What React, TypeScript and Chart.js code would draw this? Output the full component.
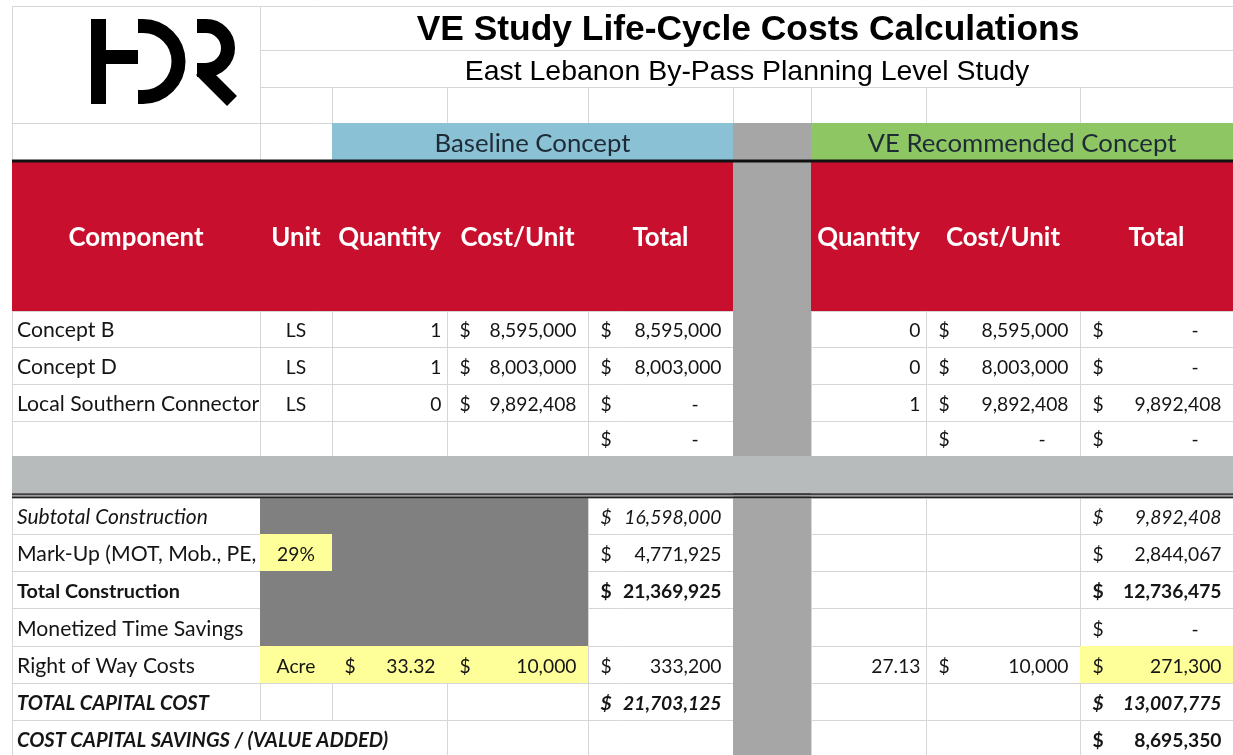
import React, { useEffect, useRef } from "react";
import { Chart, registerables } from "chart.js";

Chart.register(...registerables);

const W = 1233;
const H = 755;

// ---------- content ----------
const reportTitle = "VE Study Life-Cycle Costs Calculations";
const reportSubtitle = "East Lebanon By-Pass Planning Level Study";
const conceptGroups = ["Baseline Concept", "VE Recommended Concept"];
const columnHeaders = ["Component", "Unit", "Quantity", "Cost/Unit", "Total", "", "Quantity", "Cost/Unit", "Total"];

const components = ["Concept B", "Concept D", "Local Southern Connector", ""];
const componentUnits = ["LS", "LS", "LS", ""];
const baselineQuantity: (number | null)[] = [1, 1, 0, null];
const baselineUnitCost: (number | null)[] = [8595000, 8003000, 9892408, null];
const baselineTotal: (number | null)[] = [8595000, 8003000, 0, 0];
const veQuantity: (number | null)[] = [0, 0, 1, null];
const veUnitCost: (number | null)[] = [8595000, 8003000, 9892408, 0];
const veTotal: (number | null)[] = [0, 0, 9892408, 0];

const summaryLabels = [
  "Subtotal Construction",
  "Mark-Up (MOT, Mob., PE,",
  "Total Construction",
  "Monetized Time Savings",
  "Right of Way Costs",
  "TOTAL CAPITAL COST",
  "COST CAPITAL SAVINGS / (VALUE ADDED)",
];
const summaryBaselineTotal: (number | null)[] = [16598000, 4771925, 21369925, null, 333200, 21703125, null];
const summaryVeTotal: (number | null)[] = [9892408, 2844067, 12736475, 0, 271300, 13007775, 8695350];
const markUpRate = "29%";
const rightOfWayUnit = "Acre";
const baselineAcres = 33.32;
const costPerAcre = 10000;
const veAcres = 27.13;

// ---------- layout / style ----------
const colEdges = [12, 260, 332, 447, 588, 733, 811, 926, 1080, 1245];
const dataRowEdges = [311, 347, 384, 421, 456];
const sumRowEdges = [498, 534, 571, 608, 646, 683, 720, 757];
const labelStyles = ["italic", "normal", "bold", "normal", "normal", "italic bold", "italic bold"];
const baseValStyles = ["italic", "normal", "bold", "normal", "normal", "italic bold", "normal"];
const veValStyles = ["italic", "normal", "bold", "normal", "normal", "italic bold", "bold"];

const C = {
  grid: "#d6d6d6",
  blue: "#8bc1d5",
  green: "#8dc662",
  sep: "#a6a6a6",
  red: "#c8102e",
  band: "#b8bbbb",
  dark: "#808080",
  yellow: "#ffff99",
  text: "#151515",
};

const CELL_FAMILY = 'Lato, "Noto Sans", sans-serif';
const TITLE_FAMILY = '"Liberation Sans", Arial, sans-serif';

function fmt(n: number) {
  return n.toLocaleString("en-US", { maximumFractionDigits: 2 });
}

const tablePlugin = {
  id: "spreadsheetTable",
  afterDraw(chart: any) {
    const { ctx } = chart;
    const xs = chart.scales.x;
    const ys = chart.scales.y;
    const X = (v: number) => xs.getPixelForValue(v);
    const Y = (v: number) => ys.getPixelForValue(v);

    const fitSize = (text: string, font: (s: number) => string, target: number) => {
      ctx.font = font(100);
      const w = ctx.measureText(text).width;
      return (100 * target) / w;
    };
    const cellSize = fitSize("8,595,000", (s) => `${s}px ${CELL_FAMILY}`, 87);
    const labelSizes: Record<string, number> = {
      normal: fitSize("Right of Way Costs", (s) => `${s}px ${CELL_FAMILY}`, 178),
      italic: fitSize("Subtotal Construction", (s) => `italic ${s}px ${CELL_FAMILY}`, 191),
      bold: fitSize("Total Construction", (s) => `bold ${s}px ${CELL_FAMILY}`, 163),
      "italic bold": fitSize("TOTAL CAPITAL COST", (s) => `italic bold ${s}px ${CELL_FAMILY}`, 192),
    };
    const headSize = fitSize("Component", (s) => `bold ${s}px ${CELL_FAMILY}`, 135);
    const groupSize = fitSize("Baseline Concept", (s) => `${s}px ${CELL_FAMILY}`, 196);
    const titleSize = fitSize(reportTitle, (s) => `bold ${s}px ${TITLE_FAMILY}`, 663);
    const subSize = fitSize(reportSubtitle, (s) => `${s}px ${TITLE_FAMILY}`, 565);
    const cf = (style: string) => `${style} ${cellSize}px ${CELL_FAMILY}`;
    const lf = (style: string) => `${style} ${labelSizes[style]}px ${CELL_FAMILY}`;

    const rect = (x0: number, y0: number, x1: number, y1: number, color: string) => {
      ctx.fillStyle = color;
      ctx.fillRect(X(x0), Y(y0), X(x1) - X(x0), Y(y1) - Y(y0));
    };
    const hline = (y: number, x0: number, x1: number) => {
      const py = Math.round(Y(y)) + 0.5;
      ctx.beginPath();
      ctx.moveTo(X(x0), py);
      ctx.lineTo(X(x1), py);
      ctx.stroke();
    };
    const vline = (x: number, y0: number, y1: number) => {
      const px = Math.round(X(x)) + 0.5;
      ctx.beginPath();
      ctx.moveTo(px, Y(y0));
      ctx.lineTo(px, Y(y1));
      ctx.stroke();
    };

    ctx.save();
    rect(0, 0, W, H, "#ffffff");

    // ---- grid lines ----
    ctx.strokeStyle = C.grid;
    ctx.lineWidth = 1;
    hline(6, 12, W);
    hline(50, 260, W);
    hline(87, 260, W);
    hline(123, 12, W);
    vline(12, 6, H);
    vline(260, 6, 160);
    for (let i = 2; i < colEdges.length - 1; i++) vline(colEdges[i], 87, 123);
    vline(332, 123, 160);
    dataRowEdges.forEach((y) => hline(y, 12, W));
    sumRowEdges.forEach((y) => hline(y, 12, W));
    for (let i = 1; i < colEdges.length - 1; i++) {
      vline(colEdges[i], dataRowEdges[0], dataRowEdges[dataRowEdges.length - 1]);
      const lastTop = sumRowEdges[sumRowEdges.length - 2];
      if (colEdges[i] === 260 || colEdges[i] === 332) vline(colEdges[i], sumRowEdges[0], lastTop);
      else vline(colEdges[i], sumRowEdges[0], H);
    }

    // ---- fills ----
    rect(332, 123, 733, 160, C.blue);
    rect(811, 123, W, 160, C.green);
    rect(733, 123, 811, H, C.sep);
    rect(12, 162, 733, 311, C.red);
    rect(811, 162, W, 311, C.red);
    rect(12, 456, W, 493, C.band);
    rect(260, 498, 588, 646, C.dark);
    rect(260, 534, 332, 571, C.yellow);
    rect(260, 646, 588, 683, C.yellow);
    rect(1080, 646, W, 683, C.yellow);
    // heavy borders
    rect(12, 159.5, W, 162.5, "#111111");
    rect(12, 493.3, W, 494.9, "#222222");
    rect(12, 494.9, W, 496.5, "#9a9c9c");
    rect(12, 496.5, W, 498.2, "#222222");

    // ---- logo ----
    rect(91, 19, 106, 104, "#000");
    rect(106, 50, 138, 64, "#000");
    ctx.strokeStyle = "#000";
    ctx.lineWidth = 14;
    ctx.lineCap = "butt";
    ctx.beginPath();
    ctx.moveTo(X(138), Y(26));
    ctx.lineTo(X(143), Y(26));
    ctx.arc(X(143), Y(61.5), 35.5, -Math.PI / 2, Math.PI / 2);
    ctx.lineTo(X(138), Y(97));
    ctx.stroke();
    ctx.beginPath();
    ctx.moveTo(X(197), Y(26));
    ctx.lineTo(X(206), Y(26));
    ctx.arc(X(206), Y(48), 22, -Math.PI / 2, Math.PI / 2);
    ctx.lineTo(X(197), Y(70));
    ctx.stroke();
    ctx.beginPath();
    ctx.moveTo(X(201), Y(70));
    ctx.lineTo(X(232), Y(101));
    ctx.stroke();

    // ---- titles ----
    ctx.fillStyle = "#000";
    ctx.textAlign = "center";
    ctx.textBaseline = "alphabetic";
    ctx.font = `bold ${titleSize}px ${TITLE_FAMILY}`;
    ctx.fillText(reportTitle, X(748), Y(39.5));
    ctx.font = `${subSize}px ${TITLE_FAMILY}`;
    ctx.fillText(reportSubtitle, X(747), Y(79.5));

    // group labels
    ctx.fillStyle = "#1e2b36";
    ctx.font = `${groupSize}px ${CELL_FAMILY}`;
    ctx.fillText(conceptGroups[0], X((332 + 733) / 2), Y(152));
    ctx.fillText(conceptGroups[1], X((811 + W) / 2), Y(152));

    // column headers
    ctx.fillStyle = "#ffffff";
    ctx.font = `bold ${headSize}px ${CELL_FAMILY}`;
    ctx.textBaseline = "middle";
    columnHeaders.forEach((h, i) => {
      if (!h) return;
      const right = i === 8 ? W : colEdges[i + 1];
      ctx.fillText(h, X((colEdges[i] + right) / 2), Y(238));
    });
    ctx.textBaseline = "alphabetic";

    // ---- cell text helpers ----
    ctx.font = cf("normal");
    const digitW = ctx.measureText("0").width;
    const left = (s: string, c: number, bottom: number, style: string, clipRight?: number) => {
      ctx.save();
      ctx.beginPath();
      ctx.rect(X(colEdges[c]), Y(bottom - 40), X(clipRight ?? colEdges[c + 1]) - X(colEdges[c]) - 1, 40);
      ctx.clip();
      ctx.font = lf(style);
      ctx.fillStyle = C.text;
      ctx.textAlign = "left";
      ctx.fillText(s, X(colEdges[c] + 5), Y(bottom - 10.5));
      ctx.restore();
    };
    const center = (s: string, c: number, bottom: number, style: string) => {
      ctx.font = cf(style);
      ctx.fillStyle = C.text;
      ctx.textAlign = "center";
      ctx.fillText(s, X((colEdges[c] + colEdges[c + 1]) / 2), Y(bottom - 10.5));
    };
    const right = (s: string, c: number, bottom: number, style: string, pad = 5.5) => {
      ctx.font = cf(style);
      ctx.fillStyle = C.text;
      ctx.textAlign = "right";
      const r = c === 8 ? W : colEdges[c + 1];
      ctx.fillText(s, X(r - pad), Y(bottom - 10.5));
    };
    const acct = (v: number | null, c: number, bottom: number, style: string) => {
      if (v === null) return;
      ctx.font = cf(style);
      ctx.fillStyle = C.text;
      ctx.textAlign = "left";
      ctx.fillText("$", X(colEdges[c] + 12.5), Y(bottom - 10.5));
      const r = c === 8 ? W : colEdges[c + 1];
      ctx.textAlign = "right";
      if (v === 0) ctx.fillText("-", X(r - 12) - 2 * digitW, Y(bottom - 10.5));
      else ctx.fillText(fmt(v), X(r - 11.5), Y(bottom - 10.5));
    };

    // ---- component rows ----
    components.forEach((name, i) => {
      const b = dataRowEdges[i + 1];
      if (name) left(name, 0, b, "normal");
      if (componentUnits[i]) center(componentUnits[i], 1, b, "normal");
      if (baselineQuantity[i] !== null) right(String(baselineQuantity[i]), 2, b, "normal");
      acct(baselineUnitCost[i], 3, b, "normal");
      acct(baselineTotal[i], 4, b, "normal");
      if (veQuantity[i] !== null) right(String(veQuantity[i]), 6, b, "normal");
      acct(veUnitCost[i], 7, b, "normal");
      acct(veTotal[i], 8, b, "normal");
    });

    // ---- summary rows ----
    summaryLabels.forEach((label, i) => {
      const b = sumRowEdges[i + 1];
      const last = i === summaryLabels.length - 1;
      left(label, 0, b, labelStyles[i], last ? 447 : undefined);
      acct(summaryBaselineTotal[i], 4, b, baseValStyles[i]);
      acct(summaryVeTotal[i], 8, b, veValStyles[i]);
    });
    const mb = sumRowEdges[2];
    center(markUpRate, 1, mb, "normal");
    const rb = sumRowEdges[5];
    center(rightOfWayUnit, 1, rb, "normal");
    acct(baselineAcres, 2, rb, "normal");
    acct(costPerAcre, 3, rb, "normal");
    right(fmt(veAcres), 6, rb, "normal");
    acct(costPerAcre, 7, rb, "normal");

    ctx.restore();
  },
};

export default function App() {
  const ref = useRef<HTMLCanvasElement | null>(null);
  useEffect(() => {
    document.body.style.margin = "0";
    if (!ref.current) return;
    const chart = new Chart(ref.current, {
      type: "scatter",
      data: { datasets: [{ data: [] }] },
      options: {
        animation: false,
        responsive: false,
        maintainAspectRatio: false,
        layout: { padding: 0 },
        events: [],
        scales: {
          x: { type: "linear", min: 0, max: W, display: false },
          y: { type: "linear", min: 0, max: H, reverse: true, display: false },
        },
        plugins: { legend: { display: false }, tooltip: { enabled: false }, title: { display: false } },
      },
      plugins: [tablePlugin],
    });
    return () => chart.destroy();
  }, []);
  return (
    <div style={{ position: "absolute", left: 0, top: 0, width: W, height: H, background: "#fff" }}>
      <canvas ref={ref} width={W} height={H} style={{ display: "block" }} />
    </div>
  );
}
